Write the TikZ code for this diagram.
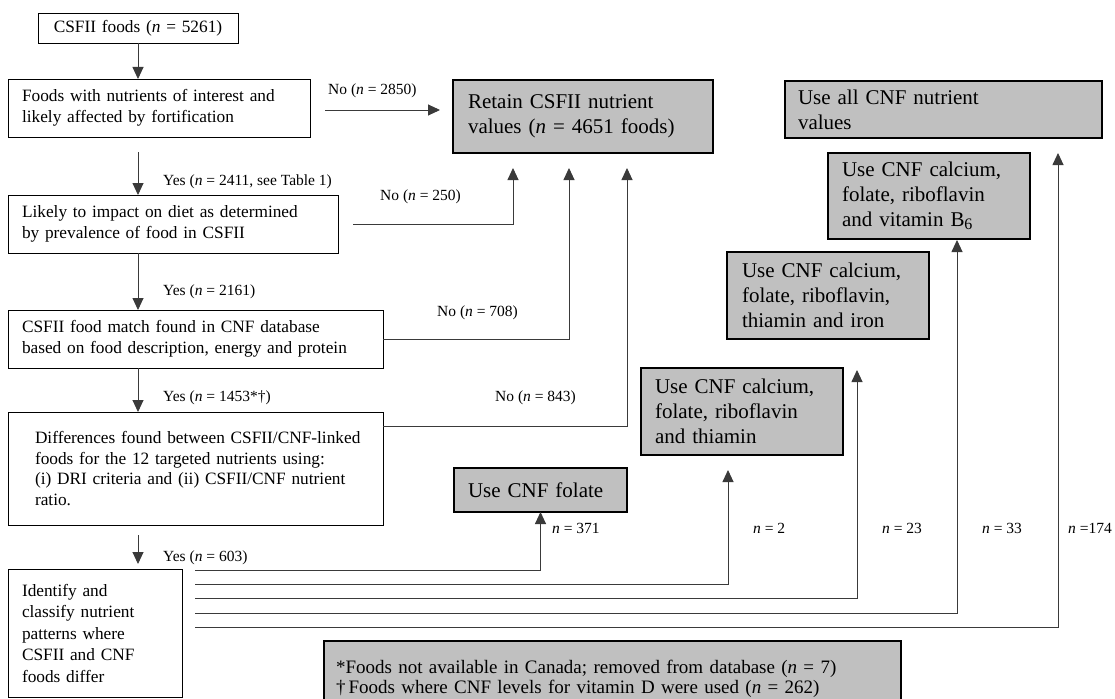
\documentclass[tikz,border=0pt]{standalone}
\usepackage{fontspec}
\setmainfont{Liberation Serif}
\usetikzlibrary{arrows.meta}
\definecolor{gfill}{HTML}{C0C0C0}
\definecolor{lncol}{HTML}{3A3A3A}
\newcommand\nn{\textit{n}}
\newcommand\fbody{\fontsize{17.3pt}{20.5pt}\selectfont}
\newcommand\fgray{\fontsize{21pt}{25pt}\selectfont}
\newcommand\flab{\fontsize{15.5pt}{18pt}\selectfont}
\newcommand\ffoot{\fontsize{19pt}{20pt}\selectfont}
\begin{document}
\begin{tikzpicture}[x=1pt,y=-1pt,
  wbox/.style={draw=black, line width=0.9pt, fill=white, anchor=north west, inner xsep=14pt, inner ysep=0pt, outer sep=0pt, align=left, font=\fbody},
  gbox/.style={draw=black, line width=1.5pt, fill=gfill, anchor=north west, inner xsep=14pt, inner ysep=0pt, outer sep=0pt, align=left, font=\fgray},
  lab/.style={font=\flab, inner sep=0pt, anchor=west},
  conn/.style={draw=lncol, line width=0.9pt},
  arr/.style={conn, -{Triangle[width=11pt,length=12pt]}},
]
\fill[white] (0,0) rectangle (1115,698);
\useasboundingbox (0,0) rectangle (1115,698);

% left column boxes
\node[wbox, inner xsep=0pt, text width=200pt, minimum height=30pt, align=center] (b1) at (38,13) {CSFII foods (\nn{} = 5261)};
\node[wbox, text width=274pt, minimum height=58pt] (b2) at (8,79) {Foods with nutrients of interest and\\likely affected by fortification};
\node[wbox, text width=302pt, minimum height=58pt] (b3) at (8,195) {Likely to impact on diet as determined\\by prevalence of food in CSFII};
\node[wbox, text width=347pt, minimum height=58pt] (b4) at (8,310) {CSFII food match found in CNF database\\based on food description, energy and protein};
\node[wbox, inner xsep=27pt, text width=321pt, minimum height=113pt, font=\fontsize{17.3pt}{20.7pt}\selectfont] (b5) at (8,412) {\mbox{Differences found between CSFII/CNF-linked}\\foods for the 12 targeted nutrients using:\\(i) DRI criteria and (ii) CSFII/CNF nutrient\\ratio.};
\node[wbox, text width=146pt, minimum height=128pt, font=\fontsize{17.3pt}{21.5pt}\selectfont] (b6) at (8,569) {Identify and\\classify nutrient\\patterns where\\CSFII and CNF\\foods differ};

% gray result boxes
\node[gbox, inner xsep=15pt, text width=230pt, minimum height=73pt] (ret) at (453,80) {Retain CSFII nutrient\\values (\nn{} = 4651 foods)};
\node[gbox, inner xsep=13pt, text width=291pt, minimum height=57pt] (all) at (785,81) {Use all CNF nutrient\\values};
\node[gbox, text width=174pt, minimum height=86pt] (bsix) at (828,153) {Use CNF calcium,\\folate, riboflavin\\and vitamin B\raisebox{-0.35ex}{\fontsize{16pt}{16pt}\selectfont 6}};
\node[gbox, inner xsep=15pt, text width=172pt, minimum height=87pt] (iron) at (727,252) {Use CNF calcium,\\folate, riboflavin,\\thiamin and iron};
\node[gbox, text width=174pt, minimum height=87pt] (thi) at (641,368) {Use CNF calcium,\\folate, riboflavin\\and thiamin};
\node[gbox, text width=145pt, minimum height=44pt] (fol) at (454,468) {Use CNF folate};
\node[gbox, inner xsep=12pt, text width=553pt, minimum height=75pt, font=\ffoot] (foot) at (324,641) {*Foods not available in Canada; removed from database (\nn{} = 7)\\†\,Foods where CNF levels for vitamin D were used (\nn{} = 262)};

% vertical Yes arrows
\coordinate (s1) at (138,152);
\coordinate (s5) at (138,535);
\coordinate (s6) at (138,564);
\draw[arr] (b1.south -| s1) -- (s1 |- b2.north);
\draw[arr] (s1) -- (s1 |- b3.north);
\draw[arr] (s1 |- b3.south) -- (s1 |- b4.north);
\draw[arr] (s1 |- b4.south) -- (s1 |- b5.north);
\draw[arr] (s5) -- (s6);

% No arrows to Retain
\coordinate (n1s) at (325,110);
\coordinate (n1e) at (440,110);
\coordinate (n2s) at (353,224);
\coordinate (n2e) at (513,168);
\coordinate (n3e) at (569,168);
\coordinate (n4s) at (383,426);
\coordinate (n4e) at (627,168);
\draw[arr] (n1s) -- (n1e);
\draw[arr] (n2s) -| (n2e);
\draw[arr] (b4.east) -| (n3e);
\draw[arr] (n4s) -| (n4e);

% pattern lines
\coordinate (L1) at (195,570);
\coordinate (L2) at (195,584);
\coordinate (L3) at (195,598);
\coordinate (L4) at (195,613);
\coordinate (L5) at (195,627);
\coordinate (t2) at (728,470);
\coordinate (t3) at (857,370);
\coordinate (t4) at (957,240);
\coordinate (t5) at (1058,153);
\draw[arr] (L1) -| (fol.south);
\draw[arr] (L2) -| (t2);
\draw[arr] (L3) -| (t3);
\draw[arr] (L4) -| (t4);
\draw[arr] (L5) -| (t5);

% labels
\node[lab] (l1) at (328,91) {No (\nn{} = 2850)};
\node[lab] (l2) at (163,182) {Yes (\nn{} = 2411, see Table 1)};
\node[lab] (l3) at (380,197) {No (\nn{} = 250)};
\node[lab] (l4) at (163,292) {Yes (\nn{} = 2161)};
\node[lab] (l5) at (437,313) {No (\nn{} = 708)};
\node[lab] (l6) at (163,398) {Yes (\nn{} = 1453*†)};
\node[lab] (l7) at (495,398) {No (\nn{} = 843)};
\node[lab] (l8) at (163,558) {Yes (\nn{} = 603)};
\node[lab] (m1) at (552,528) {\nn{} = 371};
\node[lab] (m2) at (753,528) {\nn{} = 2};
\node[lab] (m3) at (882,528) {\nn{} = 23};
\node[lab] (m4) at (982,528) {\nn{} = 33};
\node[lab] (m5) at (1068,528) {\nn{} =174};
\end{tikzpicture}
\end{document}
